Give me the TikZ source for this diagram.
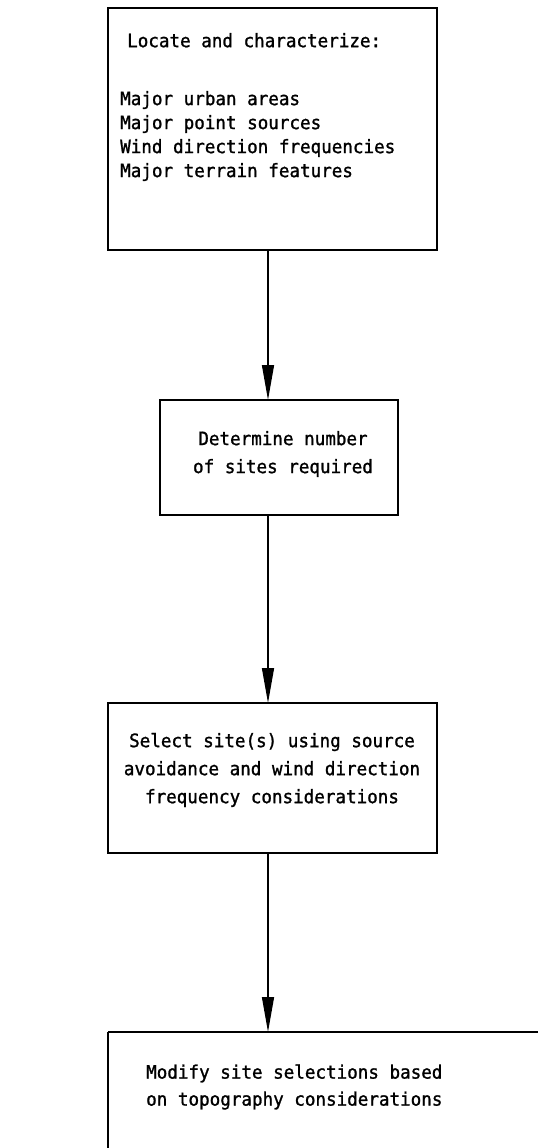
\documentclass[tikz,border=0pt]{standalone}
\usepackage{fontspec}
\newfontfamily\typewriter{DejaVu Sans Mono}[FakeStretch=0.95, FakeBold=1.2]
\usetikzlibrary{arrows.meta}
\begin{document}
\begin{tikzpicture}[x=1pt,y=-1pt,
  txt/.style={font=\typewriter\fontsize{18.5}{#1}\selectfont, inner sep=0pt},
  txt/.default=24,
  box/.style={draw, line width=1.3pt, rectangle, inner sep=0pt, outer sep=0pt},
  rule/.style={line width=2.5pt},
  flow/.style={-{Triangle[length=35pt,width=12pt]}, line width=1.4pt},
]
\fill[white] (0,0) rectangle (538,1148);
\useasboundingbox (0,0) rectangle (538,1148);

% vertical spine that all connectors follow
\coordinate (spine) at (268,0);

% boxes: thin sides, heavy top and bottom rules
\node[box, minimum width=329pt, minimum height=242pt] (b1) at (272.5,129) {};
\node[box, minimum width=238pt, minimum height=115pt] (b2) at (279,457.5) {};
\node[box, minimum width=329pt, minimum height=150pt] (b3) at (272.5,778) {};
\node[inner sep=0pt, outer sep=0pt, minimum width=430pt, minimum height=136pt] (b4) at (323,1100) {};
\foreach \b in {b1,b2,b3} {
  \draw[rule] (\b.north west) -- (\b.north east);
  \draw[rule] (\b.south west) -- (\b.south east);
}
\draw[line width=1.3pt] (b4.south west) -- (b4.north west);
\draw[rule] (b4.north west) -- (b4.north east);

% texts
\node[txt, anchor=mid west] (t1) at (127,45) {Locate and characterize:};
\node[txt=24, anchor=west, align=left] (t1list) at (120,136)
  {Major urban areas\\Major point sources\\Wind direction frequencies\\Major terrain features};
\node[txt=28, align=center] (t2) at (283,454) {Determine number\\of sites required};
\node[txt=28, align=center] (t3) at (272,770)
  {Select site(s) using source\\avoidance and wind direction\\frequency considerations};
\node[txt=27, anchor=west, align=left] (t4) at (146,1087)
  {Modify site selections based\\on topography considerations};

% connectors
\draw[flow] (spine |- b1.south) -- (spine |- b2.north);
\draw[flow] (spine |- b2.south) -- (spine |- b3.north);
\draw[flow] (spine |- b3.south) -- (spine |- b4.north);
\end{tikzpicture}
\end{document}
